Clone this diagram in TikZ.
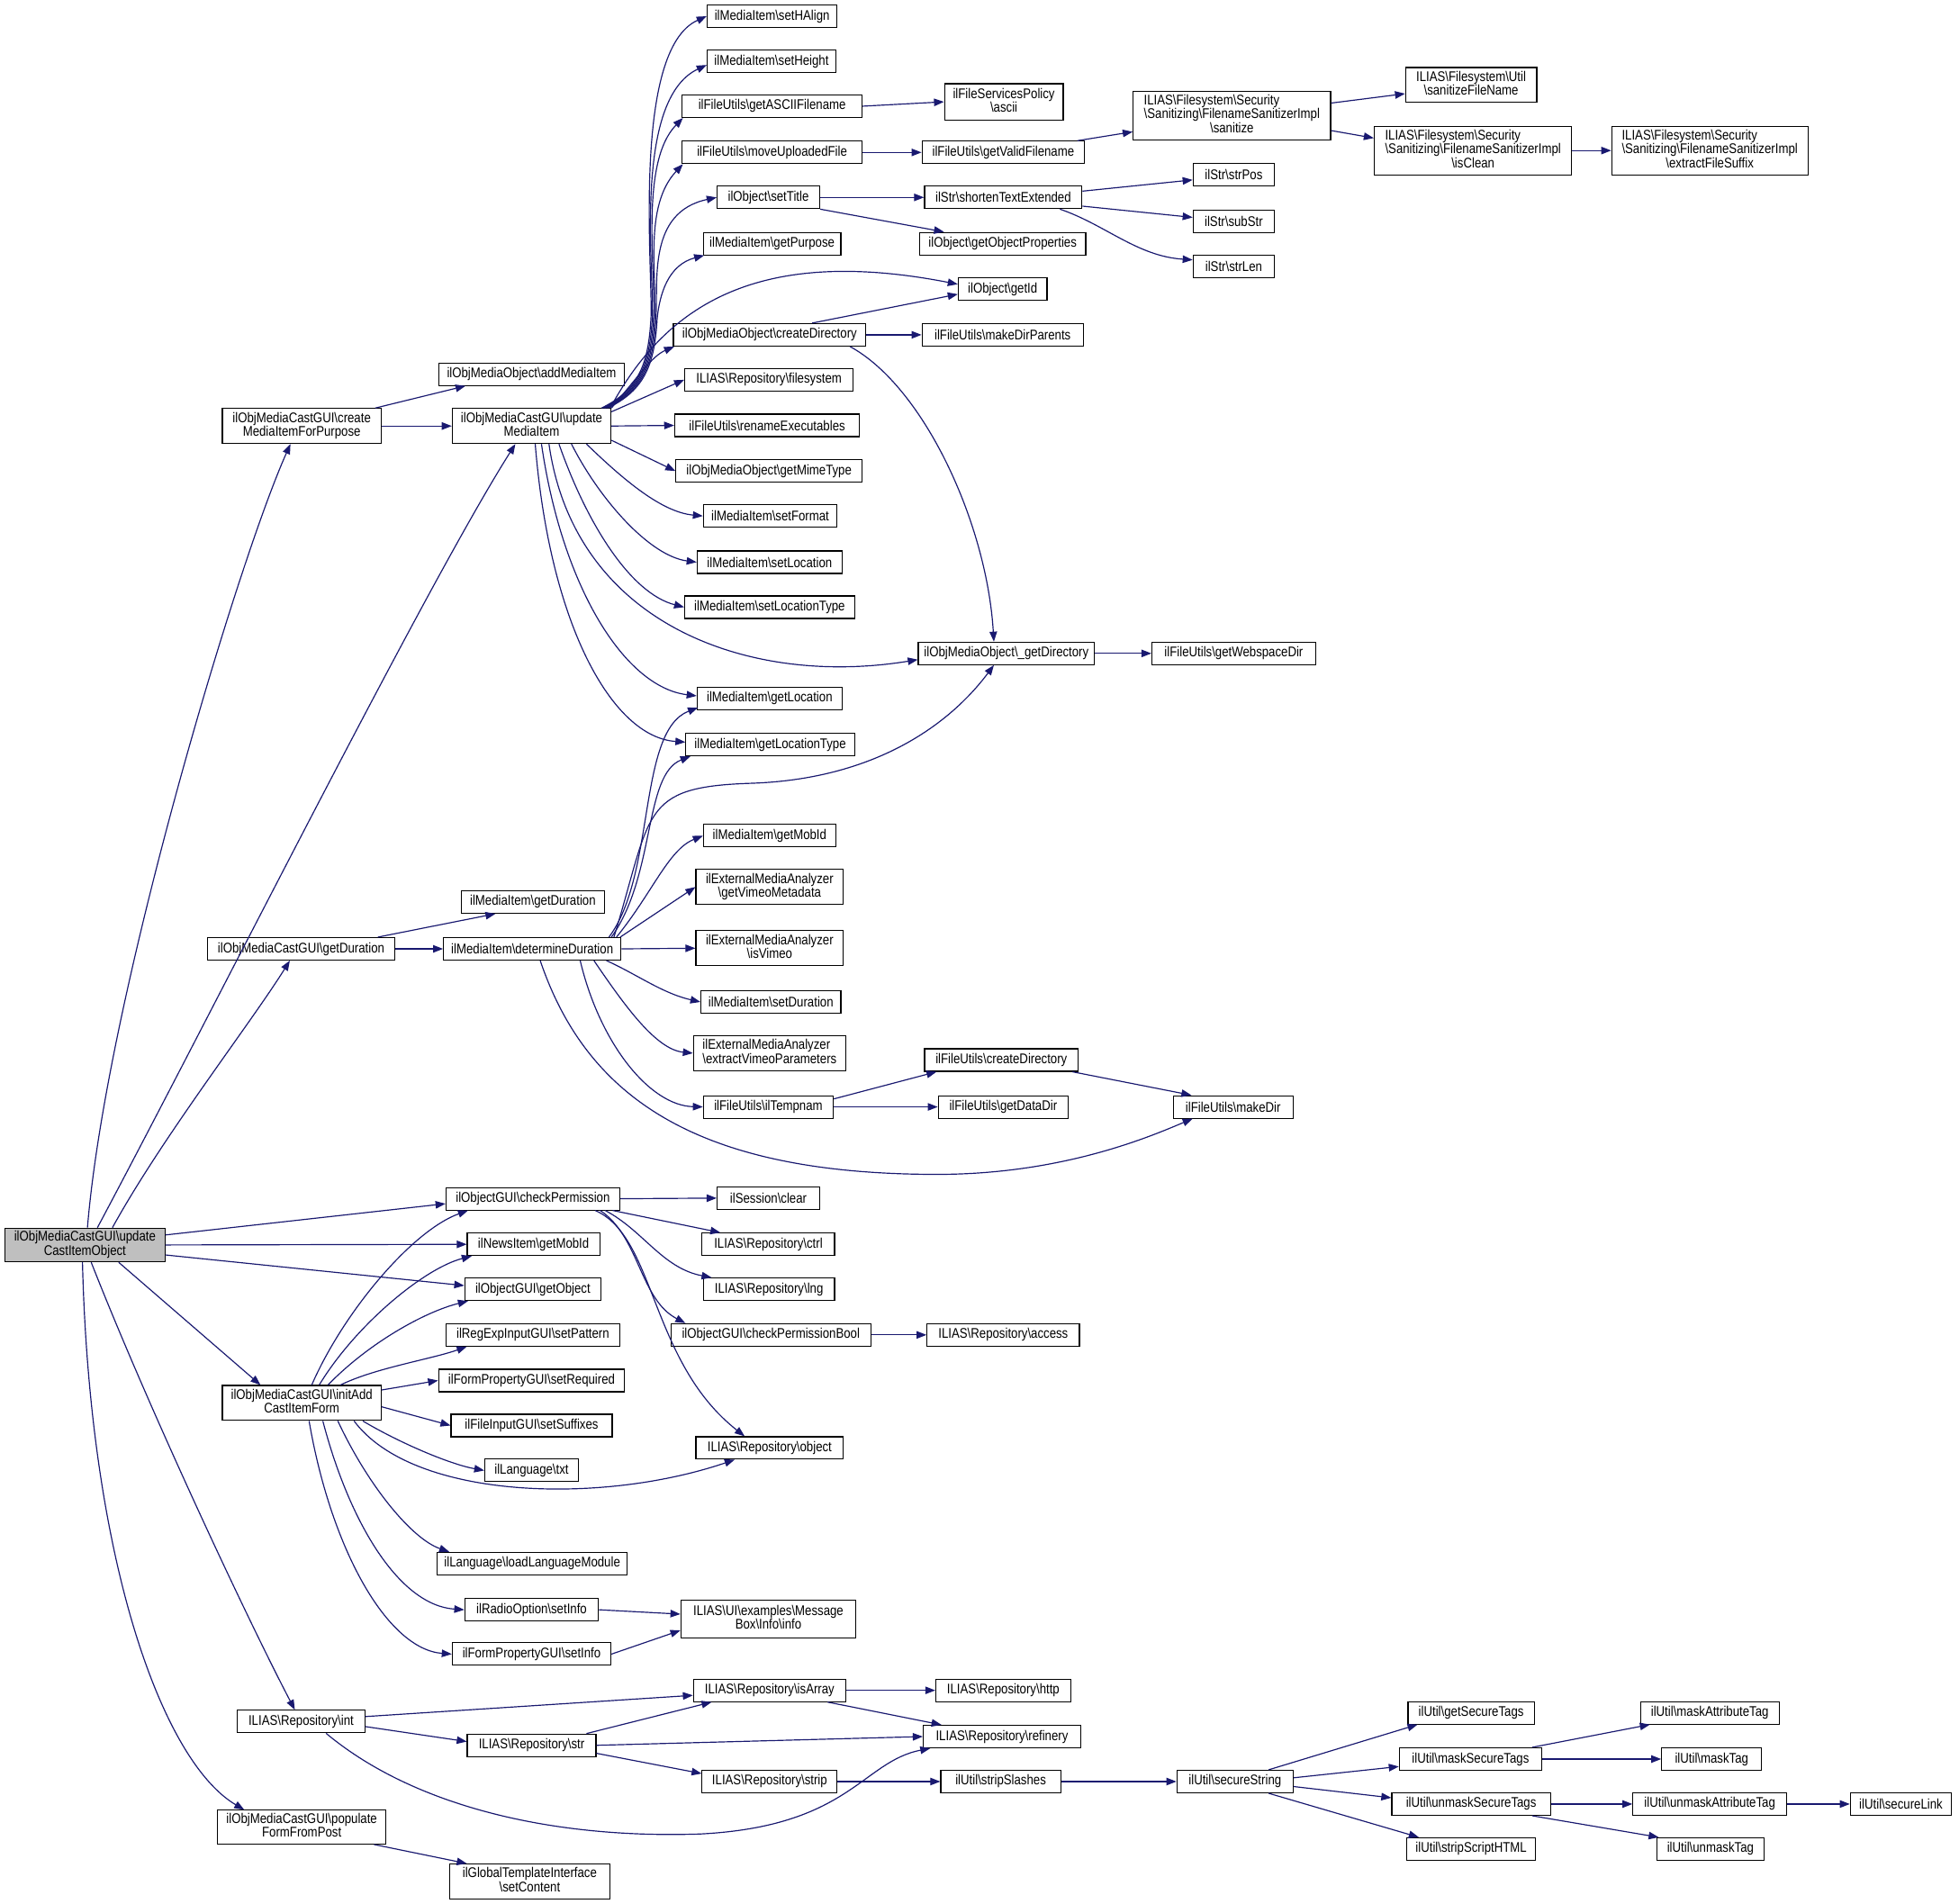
\documentclass[tikz,border=0pt]{standalone}
\usepackage{fontspec}
\setmainfont{Liberation Sans}[FakeStretch=0.85]
\usetikzlibrary{arrows.meta}
\definecolor{navy}{HTML}{191970}
\definecolor{grayfill}{HTML}{BFBFBF}
\newcommand{\bsl}{\textbackslash}
\newcommand{\twol}[2]{\begin{tabular}{@{}c@{}}\multicolumn{1}{@{}l@{}}{#1}\\#2\end{tabular}}
\newcommand{\threel}[3]{\begin{tabular}{@{}c@{}}\multicolumn{1}{@{}l@{}}{#1}\\\multicolumn{1}{@{}l@{}}{#2}\\#3\end{tabular}}
\renewcommand{\arraystretch}{0.88}
\begin{document}
\begin{tikzpicture}[x=1pt,y=-1pt,
 bx/.style={draw=black, fill=white, line width=0.8pt, inner sep=2pt, minimum height=18pt, font=\fontsize{11.2}{11}\selectfont, anchor=center},
 ln/.style={draw=navy, line width=0.85pt, -{Triangle[length=8pt,width=6pt]}}]
\useasboundingbox[fill=white] (0,0) rectangle (1568,1524);
% column 0
\node[bx, minimum width=128pt, minimum height=27pt, fill=grayfill] (A) at (68,996.5) {\twol{ilObjMediaCastGUI\bsl update}{CastItemObject}};
% column 1
\node[bx, minimum width=127pt, minimum height=28pt] (B1) at (241.5,341) {\twol{ilObjMediaCastGUI\bsl create}{MediaItemForPurpose}};
\node[bx, minimum width=150pt] (B2) at (241,759.5) {ilObjMediaCastGUI\bsl getDuration};
\node[bx, minimum width=127pt, minimum height=28pt] (B3) at (241.5,1123) {\twol{ilObjMediaCastGUI\bsl initAdd}{CastItemForm}};
\node[bx, minimum width=102pt] (B4) at (241,1378) {ILIAS\bsl Repository\bsl int};
\node[bx, minimum width=135pt, minimum height=27pt] (B5) at (241.5,1462.5) {\twol{ilObjMediaCastGUI\bsl populate}{FormFromPost}};
% column 2
\node[bx, minimum width=149pt] (C1) at (425.5,299.5) {ilObjMediaObject\bsl addMediaItem};
\node[bx, minimum width=127pt, minimum height=28pt] (C2) at (425.5,341) {\twol{ilObjMediaCastGUI\bsl update}{MediaItem}};
\node[bx, minimum width=115pt] (C3) at (426.5,722) {ilMediaItem\bsl getDuration};
\node[bx, minimum width=142pt] (C4) at (426,759.5) {ilMediaItem\bsl determineDuration};
\node[bx, minimum width=139pt] (C5) at (426.5,959.5) {ilObjectGUI\bsl checkPermission};
\node[bx, minimum width=106pt] (C6) at (427,996) {ilNewsItem\bsl getMobId};
\node[bx, minimum width=109pt] (C7) at (426.5,1032) {ilObjectGUI\bsl getObject};
\node[bx, minimum width=139pt] (C8) at (426.5,1068.5) {ilRegExpInputGUI\bsl setPattern};
\node[bx, minimum width=149pt] (C9) at (425.5,1105) {ilFormPropertyGUI\bsl setRequired};
\node[bx, minimum width=129pt] (C10) at (425.5,1141) {ilFileInputGUI\bsl setSuffixes};
\node[bx, minimum width=75pt] (C11) at (425.5,1177) {ilLanguage\bsl txt};
\node[bx, minimum width=152pt] (C12) at (426,1251.5) {ilLanguage\bsl loadLanguageModule};
\node[bx, minimum width=107pt] (C13) at (425.5,1288.5) {ilRadioOption\bsl setInfo};
\node[bx, minimum width=127pt] (C14) at (425.5,1324) {ilFormPropertyGUI\bsl setInfo};
\node[bx, minimum width=128pt, minimum height=28pt] (C15) at (424,1506) {\twol{ilGlobalTemplateInterface}{\bsl setContent}};
\node[bx, minimum width=103pt] (C16) at (425.5,1397) {ILIAS\bsl Repository\bsl str};
% column 3
\node[bx, minimum width=104pt] (D1) at (618,13) {ilMediaItem\bsl setHAlign};
\node[bx, minimum width=103pt] (D2) at (617.5,49) {ilMediaItem\bsl setHeight};
\node[bx, minimum width=144pt] (D3) at (618,85) {ilFileUtils\bsl getASCIIFilename};
\node[bx, minimum width=144pt] (D4) at (618,122) {ilFileUtils\bsl moveUploadedFile};
\node[bx, minimum width=82pt] (D5) at (615,158) {ilObject\bsl setTitle};
\node[bx, minimum width=110pt] (D6) at (618,195) {ilMediaItem\bsl getPurpose};
\node[bx, minimum width=154pt] (D7) at (616,268) {ilObjMediaObject\bsl createDirectory};
\node[bx, minimum width=135pt] (D8) at (615.5,304) {ILIAS\bsl Repository\bsl filesystem};
\node[bx, minimum width=148pt] (D9) at (614,340.5) {ilFileUtils\bsl renameExecutables};
\node[bx, minimum width=149pt] (D10) at (615.5,377) {ilObjMediaObject\bsl getMimeType};
\node[bx, minimum width=107pt] (D11) at (616.5,413) {ilMediaItem\bsl setFormat};
\node[bx, minimum width=116pt] (D12) at (616,450) {ilMediaItem\bsl setLocation};
\node[bx, minimum width=136pt] (D13) at (616,486) {ilMediaItem\bsl setLocationType};
\node[bx, minimum width=116pt] (D14) at (616,559) {ilMediaItem\bsl getLocation};
\node[bx, minimum width=135pt] (D15) at (616.5,596) {ilMediaItem\bsl getLocationType};
\node[bx, minimum width=106pt] (D16) at (616,669) {ilMediaItem\bsl getMobId};
\node[bx, minimum width=118pt, minimum height=28pt] (D17) at (616,710) {\twol{ilExternalMediaAnalyzer}{\bsl getVimeoMetadata}};
\node[bx, minimum width=118pt, minimum height=28pt] (D18) at (616,759) {\twol{ilExternalMediaAnalyzer}{\bsl isVimeo}};
\node[bx, minimum width=112pt] (D19) at (617,802) {ilMediaItem\bsl setDuration};
\node[bx, minimum width=122pt, minimum height=28pt] (D20) at (616,843) {\twol{ilExternalMediaAnalyzer}{\bsl extractVimeoParameters}};
\node[bx, minimum width=104pt] (D21) at (615,886) {ilFileUtils\bsl ilTempnam};
\node[bx, minimum width=82pt] (D22) at (615,959) {ilSession\bsl clear};
\node[bx, minimum width=106pt] (D23) at (615,996) {ILIAS\bsl Repository\bsl ctrl};
\node[bx, minimum width=105pt] (D24) at (615.5,1032) {ILIAS\bsl Repository\bsl lng};
\node[bx, minimum width=160pt] (D25) at (617,1068.5) {ilObjectGUI\bsl checkPermissionBool};
\node[bx, minimum width=118pt] (D26) at (616,1159) {ILIAS\bsl Repository\bsl object};
\node[bx, minimum width=140pt, minimum height=30pt] (D27) at (615,1296) {\twol{ILIAS\bsl UI\bsl examples\bsl Message}{Box\bsl Info\bsl info}};
\node[bx, minimum width=122pt] (D28) at (616,1353) {ILIAS\bsl Repository\bsl isArray};
\node[bx, minimum width=108pt] (D29) at (616,1426) {ILIAS\bsl Repository\bsl strip};
% column 4
\node[bx, minimum width=95pt, minimum height=29pt] (E1) at (803.5,81.5) {\twol{ilFileServicesPolicy}{\bsl ascii}};
\node[bx, minimum width=130pt] (E2) at (803,122) {ilFileUtils\bsl getValidFilename};
\node[bx, minimum width=126pt] (E3) at (803,158) {ilStr\bsl shortenTextExtended};
\node[bx, minimum width=133pt] (E4) at (802.5,195) {ilObject\bsl getObjectProperties};
\node[bx, minimum width=71pt] (E5) at (802.5,231.5) {ilObject\bsl getId};
\node[bx, minimum width=129pt] (E6) at (802.5,268) {ilFileUtils\bsl makeDirParents};
\node[bx, minimum width=141pt] (E7) at (805.5,523) {ilObjMediaObject\bsl \_getDirectory};
\node[bx, minimum width=123pt] (E8) at (801.5,848.5) {ilFileUtils\bsl createDirectory};
\node[bx, minimum width=104pt] (E9) at (803,886) {ilFileUtils\bsl getDataDir};
\node[bx, minimum width=122pt] (E10) at (803,1068.5) {ILIAS\bsl Repository\bsl access};
\node[bx, minimum width=108pt] (E11) at (803,1353) {ILIAS\bsl Repository\bsl http};
\node[bx, minimum width=126pt] (E12) at (802,1390) {ILIAS\bsl Repository\bsl refinery};
\node[bx, minimum width=96pt] (E13) at (801,1426) {ilUtil\bsl stripSlashes};
% column 5
\node[bx, minimum width=158pt, minimum height=39pt] (F1) at (986,92.5) {\threel{ILIAS\bsl Filesystem\bsl Security}{\bsl Sanitizing\bsl FilenameSanitizerImpl}{\bsl sanitize}};
\node[bx, minimum width=65pt] (F2) at (987.5,140) {ilStr\bsl strPos};
\node[bx, minimum width=65pt] (F3) at (987.5,177) {ilStr\bsl subStr};
\node[bx, minimum width=65pt] (F4) at (987.5,213) {ilStr\bsl strLen};
\node[bx, minimum width=131pt] (F5) at (987.5,523) {ilFileUtils\bsl getWebspaceDir};
\node[bx, minimum width=96pt] (F6) at (987,886) {ilFileUtils\bsl makeDir};
\node[bx, minimum width=93pt] (F7) at (988.5,1426) {ilUtil\bsl secureString};
% column 6
\node[bx, minimum width=105pt, minimum height=28pt] (G1) at (1177.5,68) {\twol{ILIAS\bsl Filesystem\bsl Util}{\bsl sanitizeFileName}};
\node[bx, minimum width=158pt, minimum height=39pt] (G2) at (1179,120.5) {\threel{ILIAS\bsl Filesystem\bsl Security}{\bsl Sanitizing\bsl FilenameSanitizerImpl}{\bsl isClean}};
\node[bx, minimum width=101pt] (G3) at (1177.5,1371) {ilUtil\bsl getSecureTags};
\node[bx, minimum width=114pt] (G4) at (1177,1408) {ilUtil\bsl maskSecureTags};
\node[bx, minimum width=127pt] (G5) at (1177.5,1444) {ilUtil\bsl unmaskSecureTags};
\node[bx, minimum width=103pt] (G6) at (1177.5,1480) {ilUtil\bsl stripScriptHTML};
% column 7
\node[bx, minimum width=157pt, minimum height=39pt] (H1) at (1368.5,120.5) {\threel{ILIAS\bsl Filesystem\bsl Security}{\bsl Sanitizing\bsl FilenameSanitizerImpl}{\bsl extractFileSuffix}};
\node[bx, minimum width=111pt] (H2) at (1368.5,1371) {ilUtil\bsl maskAttributeTag};
\node[bx, minimum width=80pt] (H3) at (1370,1408) {ilUtil\bsl maskTag};
\node[bx, minimum width=123pt] (H4) at (1368.5,1444) {ilUtil\bsl unmaskAttributeTag};
\node[bx, minimum width=86pt] (H5) at (1369,1480) {ilUtil\bsl unmaskTag};
% column 8
\node[bx, minimum width=81pt] (I1) at (1521.5,1444) {ilUtil\bsl secureLink};

% ---- edges from A
\draw[ln] ([xshift=2pt]A.north) .. controls (85,800) and (190,450) .. ([xshift=-9pt]B1.south);
\draw[ln] ([xshift=10pt]A.north) .. controls (170,810) and (340,470) .. ([xshift=-13pt]C2.south);
\draw[ln] ([xshift=22pt]A.north) .. controls (130,910) and (200,820) .. ([xshift=-9pt]B2.south);
\draw[ln] ([yshift=8pt]A.east) -- ([yshift=-4pt]C5.west);
\draw[ln] (A.east) -- (C6.west);
\draw[ln] ([yshift=-8pt]A.east) -- ([yshift=3pt]C7.west);
\draw[ln] ([xshift=27pt]A.south) -- ([xshift=-33pt]B3.north);
\draw[ln] ([xshift=5pt]A.south) .. controls (120,1130) and (200,1300) .. ([xshift=-5pt]B4.north);
\draw[ln] ([xshift=-2pt]A.south) .. controls (72,1250) and (130,1410) .. ([xshift=-46pt]B5.north);
% B1
\draw[ln] ([xshift=-5pt]B1.north east) -- ([xshift=22pt]C1.south west);
\draw[ln] (B1.east) -- (C2.west);
% C2 upper fan (bundle passes right of addMediaItem)
\draw[ln] ([xshift=-8pt]C2.north east) .. controls (512,312) and (519,290) .. (521,255) .. controls (523,220) and (505,40) .. (D1.west);
\draw[ln] ([xshift=-7pt]C2.north east) .. controls (513,312) and (520,290) .. (522,255) .. controls (524,220) and (506,80) .. ([yshift=-3pt]D2.west);
\draw[ln] ([xshift=-6pt]C2.north east) .. controls (514,312) and (521,290) .. (523,255) .. controls (525,215) and (512,130) .. ([xshift=1pt]D3.south west);
\draw[ln] ([xshift=-5pt]C2.north east) .. controls (515,312) and (522,290) .. (524,255) .. controls (526,220) and (515,165) .. ([xshift=1pt]D4.south west);
\draw[ln] ([xshift=-4pt]C2.north east) .. controls (516,312) and (523,290) .. (525,255) .. controls (527,225) and (518,170) .. (D5.west);
\draw[ln] ([xshift=-3pt]C2.north east) .. controls (517,312) and (524,290) .. (526,255) .. controls (528,235) and (535,212) .. ([xshift=1pt]D6.south west);
\draw[ln] ([xshift=-1pt]C2.north east) .. controls (530,250) and (600,195) .. ([yshift=4pt]E5.west);
\draw[ln] (C2.north east) .. controls (512,300) and (522,285) .. ([xshift=1pt]D7.south west);
% C2 right / lower fan
\draw[ln] ([yshift=-3pt]C2.north east) -- (D8.west);
\draw[ln] (C2.east) -- (D9.west);
\draw[ln] ([yshift=3pt]C2.south east) -- (D10.west);
\draw[ln] ([xshift=-20pt]C2.south east) .. controls (500,385) and (530,410) .. (D11.west);
\draw[ln] ([xshift=-32pt]C2.south east) .. controls (480,400) and (520,445) .. (D12.west);
\draw[ln] ([xshift=-42pt]C2.south east) .. controls (470,420) and (505,475) .. (D13.west);
\draw[ln] ([xshift=-50pt]C2.south east) .. controls (460,500) and (600,550) .. ([yshift=-5pt]E7.west);
\draw[ln] ([xshift=-56pt]C2.south east) .. controls (450,470) and (500,550) .. ([yshift=2pt]D14.west);
\draw[ln] ([xshift=-61pt]C2.south east) .. controls (440,500) and (490,590) .. ([yshift=2pt]D15.west);
% top right area
\draw[ln] (D3.east) -- (E1.west);
\draw[ln] (D4.east) -- (E2.west);
\draw[ln] ([xshift=-6pt]E2.north east) -- ([yshift=-13pt]F1.west);
\draw[ln] ([yshift=10pt]F1.east) -- ([yshift=-7pt]G1.west);
\draw[ln] ([yshift=-12pt]F1.east) -- ([yshift=10pt]G2.west);
\draw[ln] (G2.east) -- (H1.west);
\draw[ln] (D5.east) -- (E3.west);
\draw[ln] (D5.south east) -- ([xshift=20pt]E4.north west);
\draw[ln] ([yshift=5pt]E3.east) -- ([yshift=-4pt]F2.west);
\draw[ln] ([yshift=-7pt]E3.east) -- ([yshift=3pt]F3.west);
\draw[ln] ([xshift=-18pt]E3.south east) .. controls (885,180) and (910,205) .. ([yshift=5pt]F4.west);
\draw[ln] ([xshift=34pt]D7.north) -- ([yshift=-4pt]E5.west);
\draw[ln] (D7.east) -- (E6.west);
\draw[ln] ([xshift=-13pt]D7.south east) .. controls (740,310) and (790,420) .. ([xshift=-10pt]E7.north);
\draw[ln] (E7.east) -- (F5.west);
% B2
\draw[ln] ([xshift=-14pt]B2.north east) -- ([xshift=28pt]C3.south west);
\draw[ln] (B2.east) -- (C4.west);
% C4 fan
\draw[ln] ([xshift=-10pt]C4.north east) .. controls (525,700) and (510,585) .. ([xshift=1pt,yshift=2pt]D14.south west);
\draw[ln] ([xshift=-8pt]C4.north east) .. controls (525,700) and (515,620) .. ([xshift=4pt]D15.south west);
\draw[ln] ([xshift=-6pt]C4.north east) .. controls (522,650) and (512,630) .. (600,627) .. controls (700,624) and (760,580) .. ([xshift=-10pt]E7.south);
\draw[ln] ([xshift=-4pt]C4.north east) .. controls (522,715) and (535,680) .. (D16.west);
\draw[ln] ([xshift=-1pt]C4.north east) -- (D17.west);
\draw[ln] (C4.east) -- (D18.west);
\draw[ln] ([xshift=-12pt]C4.south east) .. controls (510,780) and (530,795) .. (D19.west);
\draw[ln] ([xshift=-22pt]C4.south east) .. controls (500,805) and (525,840) .. (D20.west);
\draw[ln] ([xshift=-33pt]C4.south east) .. controls (480,835) and (520,885) .. (D21.west);
\draw[ln] ([xshift=-65pt]C4.south east) .. controls (470,880) and (560,940) .. (750,940) .. controls (850,940) and (920,910) .. ([xshift=16pt]F6.south west);
\draw[ln] ([yshift=-3pt]D21.north east) -- ([xshift=10pt]E8.south west);
\draw[ln] (D21.east) -- (E9.west);
\draw[ln] ([xshift=-5pt]E8.south east) -- ([xshift=15pt]F6.north west);
% C5
\draw[ln] (C5.east) -- (D22.west);
\draw[ln] ([xshift=-6pt]C5.south east) -- ([xshift=15pt]D23.north west);
\draw[ln] ([xshift=-12pt]C5.south east) .. controls (515,985) and (530,1015) .. ([xshift=7pt]D24.north west);
\draw[ln] ([xshift=-16pt]C5.south east) .. controls (512,990) and (512,1040) .. ([xshift=12pt]D25.north west);
\draw[ln] ([xshift=-20pt]C5.south east) .. controls (525,990) and (520,1090) .. ([xshift=-20pt]D26.north);
\draw[ln] (D25.east) -- (E10.west);
% B3
\draw[ln] ([xshift=8pt]B3.north) .. controls (275,1050) and (330,985) .. ([xshift=18pt]C5.south west);
\draw[ln] ([xshift=14pt]B3.north) .. controls (285,1060) and (340,1015) .. ([xshift=4pt]C6.south west);
\draw[ln] ([xshift=21pt]B3.north) .. controls (295,1075) and (340,1050) .. ([xshift=3pt]C7.south west);
\draw[ln] ([xshift=31pt]B3.north) .. controls (300,1095) and (345,1088) .. ([xshift=17pt]C8.south west);
\draw[ln] ([yshift=-4pt]B3.north east) -- (C9.west);
\draw[ln] ([yshift=-3pt]B3.east) -- (C10.west);
\draw[ln] ([xshift=-15pt]B3.south east) .. controls (320,1155) and (360,1172) .. (C11.west);
\draw[ln] ([xshift=-22pt]B3.south east) .. controls (330,1200) and (480,1205) .. ([xshift=-28pt]D26.south);
\draw[ln] ([xshift=-35pt]B3.south east) .. controls (295,1190) and (330,1232) .. ([xshift=10pt]C12.north west);
\draw[ln] ([xshift=-47pt]B3.south east) .. controls (280,1220) and (320,1285) .. (C13.west);
\draw[ln] ([xshift=-58pt]B3.south east) .. controls (265,1240) and (310,1320) .. (C14.west);
\draw[ln] (C13.east) -- ([yshift=4pt]D27.west);
\draw[ln] (C14.east) -- ([yshift=-9pt]D27.west);
% B4
\draw[ln] ([yshift=4pt]B4.east) -- ([yshift=-4pt]D28.west);
\draw[ln] ([yshift=-4pt]B4.east) -- ([yshift=3pt]C16.west);
\draw[ln] ([xshift=20pt]B4.south) .. controls (330,1445) and (440,1472) .. (560,1468) .. controls (680,1462) and (690,1410) .. ([xshift=6pt]E12.south west);
% C16
\draw[ln] ([xshift=-8pt]C16.north east) -- ([xshift=15pt]D28.south west);
\draw[ln] (C16.east) -- (E12.west);
\draw[ln] ([yshift=3pt]C16.south east) -- ([yshift=-3pt]D29.north west);
% D28, D29
\draw[ln] (D28.east) -- (E11.west);
\draw[ln] ([xshift=-15pt]D28.south east) -- ([xshift=15pt]E12.north west);
\draw[ln] (D29.east) -- (E13.west);
\draw[ln] (E13.east) -- (F7.west);
% F7
\draw[ln] ([xshift=-20pt]F7.north east) -- ([xshift=8pt]G3.south west);
\draw[ln] ([yshift=3pt]F7.east) -- ([yshift=-6pt]G4.west);
\draw[ln] ([yshift=-4pt]F7.east) -- ([yshift=5pt]G5.west);
\draw[ln] ([xshift=-20pt]F7.south east) -- ([xshift=10pt]G6.north west);
\draw[ln] ([xshift=-8pt]G4.north east) -- ([xshift=8pt]H2.south west);
\draw[ln] (G4.east) -- (H3.west);
\draw[ln] (G5.east) -- (H4.west);
\draw[ln] ([xshift=-15pt]G5.south east) -- ([xshift=2pt]H5.north west);
\draw[ln] (H4.east) -- (I1.west);
% B5
\draw[ln] ([xshift=-10pt]B5.south east) -- ([xshift=14pt]C15.north west);
\end{tikzpicture}
\end{document}
